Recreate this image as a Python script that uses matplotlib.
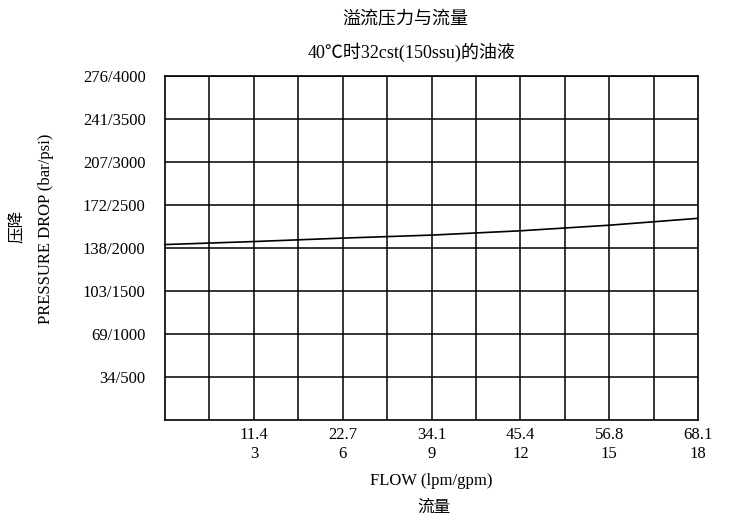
import matplotlib
matplotlib.use("Agg")
import matplotlib.pyplot as plt

# Relief-pressure vs flow curve (gpm, psi)
flow_gpm = [0, 3, 6, 9, 12, 15, 18]
pressure_psi = [2040, 2075, 2115, 2150, 2200, 2265, 2345]

x_ticks = [3, 6, 9, 12, 15, 18]
x_labels = ["11.4\n3", "22.7\n6", "34.1\n9", "45.4\n12", "56.8\n15", "68.1\n18"]
y_ticks = [500, 1000, 1500, 2000, 2500, 3000, 3500, 4000]
y_labels = ["34/500", "69/1000", "103/1500", "138/2000",
            "172/2500", "207/3000", "241/3500", "276/4000"]

plt.rcParams["font.family"] = ["Liberation Serif", "Noto Sans CJK SC", "DejaVu Sans"]

W, H = 733, 527
fig = plt.figure(figsize=(W / 100, H / 100), dpi=100)
ax = fig.add_axes([165 / W, 1 - 420 / H, 533 / W, 344 / H])

ax.plot(flow_gpm, pressure_psi, color="black", lw=1.2, clip_on=False, zorder=3)

ax.set_xlim(0, 18)
ax.set_ylim(0, 4000)

# 12 x 8 grid
for i in range(1, 12):
    ax.axvline(i * 1.5, color="black", lw=1.1)
for y in y_ticks:
    ax.axhline(y, color="black", lw=1.1)

ax.set_yticks(y_ticks)
ax.set_yticklabels(y_labels, fontsize=12)
ax.set_xticks(x_ticks)
ax.set_xticklabels(x_labels, fontsize=12, linespacing=1.25)
ax.tick_params(which="both", length=0)
ax.tick_params(axis="y", pad=14)
ax.tick_params(axis="x", pad=5)
for s in ax.spines.values():
    s.set_linewidth(1.2)

# axis titles
fig.text(18 / W, 1 - 226 / H, "压降", rotation=90, ha="center", va="center", fontsize=12)
fig.text(46 / W, 1 - 229 / H, "PRESSURE DROP (bar/psi)", rotation=90,
         ha="center", va="center", fontsize=12)
fig.text(431 / W, 1 - 481 / H, "FLOW (lpm/gpm)", ha="center", va="center", fontsize=12)
fig.text(434 / W, 1 - 508 / H, "流量", ha="center", va="center", fontsize=12)

fig.text(405 / W, 1 - 20 / H, "溢流压力与流量", ha="center", va="center", fontsize=13)
fig.text(412 / W, 1 - 52 / H, "40℃时32cst(150ssu)的油液", ha="center", va="center", fontsize=13)

fig.savefig("out.png", dpi=100)
